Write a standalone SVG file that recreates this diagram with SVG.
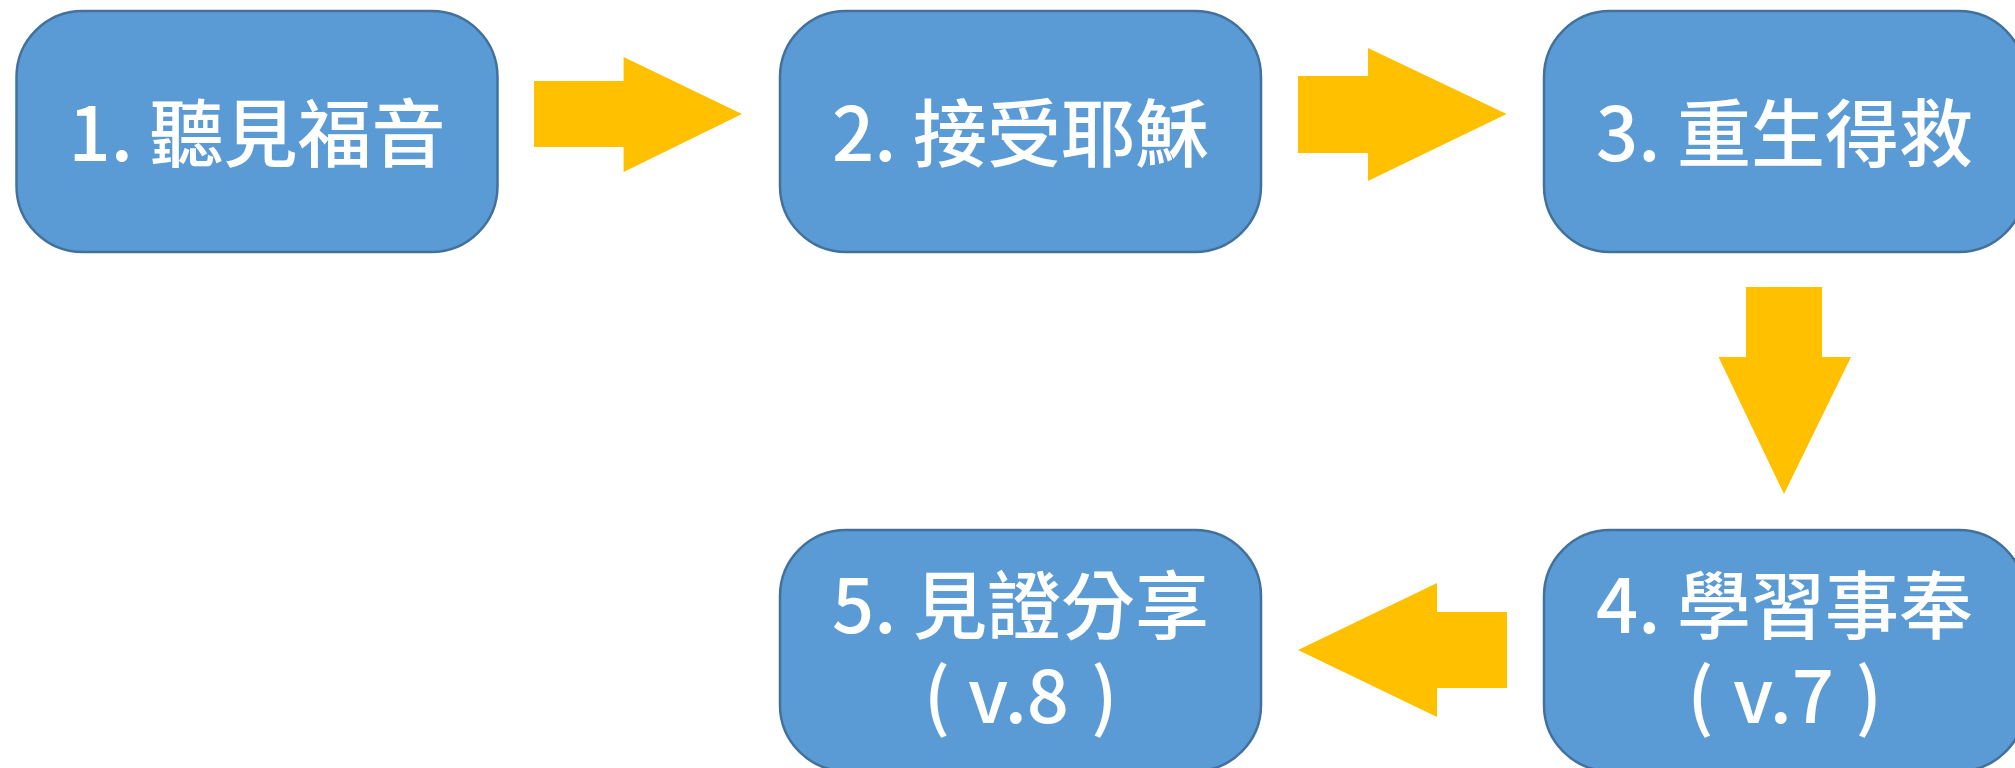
<svg xmlns="http://www.w3.org/2000/svg" width="2015" height="768" viewBox="0 0 2015 768">
<style>
.node{fill:#5B9BD5;stroke:#41719C;stroke-width:2.5}
.arrow{fill:#FFC000}
.lbl{fill:#FFFFFF;font-family:"Noto Sans CJK TC","Noto Sans",sans-serif;font-size:74px;font-weight:500;text-anchor:middle}
</style>
<rect width="2015" height="768" fill="#FFFFFF"/>
<g id="connectors">
<polygon class="arrow" points="534,81 623.6,81 623.6,57 742,114 623.6,172 623.6,147 534,147"/>
<polygon class="arrow" points="1298,76 1368,76 1368,48 1506.6,114 1368,181 1368,153 1298,153"/>
<polygon class="arrow" points="1746,287 1822,287 1822,357 1851,357 1784,494 1718.5,357 1746,357"/>
<polygon class="arrow" points="1507,612 1437,612 1437,583 1298,650 1437,717 1437,688 1507,688"/>
</g>
<g id="node1">
<rect class="node" x="16.5" y="11" width="481" height="241" rx="66" ry="66"/>
<text class="lbl" x="257" y="161">1. 聽見福音</text>
</g>
<g id="node2">
<rect class="node" x="780" y="11" width="481" height="241" rx="66" ry="66"/>
<text class="lbl" x="1020.5" y="161">2. 接受耶穌</text>
</g>
<g id="node3">
<rect class="node" x="1544" y="11" width="481" height="241" rx="66" ry="66"/>
<text class="lbl" x="1784.5" y="161">3. 重生得救</text>
</g>
<g id="node4">
<rect class="node" x="1544" y="530" width="481" height="241" rx="66" ry="66"/>
<text class="lbl" x="1784.5" y="633">4. 學習事奉</text>
<text class="lbl" y="723"><tspan x="1700.5">(</tspan><tspan x="1783.5">v.7</tspan><tspan x="1869">)</tspan></text>
</g>
<g id="node5">
<rect class="node" x="780" y="530" width="481" height="241" rx="66" ry="66"/>
<text class="lbl" x="1020.5" y="633">5. 見證分享</text>
<text class="lbl" y="723"><tspan x="937">(</tspan><tspan x="1018.5">v.8</tspan><tspan x="1104.5">)</tspan></text>
</g>
</svg>
